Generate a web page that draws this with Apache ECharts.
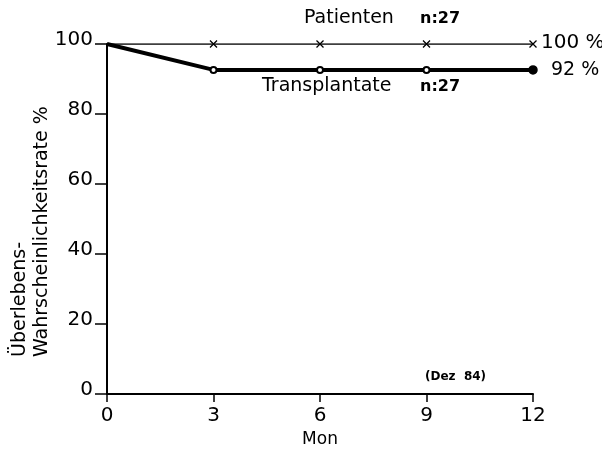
<!DOCTYPE html>
<html>
<head>
<meta charset="utf-8">
<script src="https://cdn.jsdelivr.net/npm/echarts@6/dist/echarts.min.js"></script>
<style>html,body{margin:0;padding:0;background:#fff;}#c{width:602px;height:453px;}</style>
</head>
<body>
<div id="c"></div>
<script>
const months = [0, 3, 6, 9, 12];
const patienten = [100, 100, 100, 100, 100];
const transplantate = [100, 92.6, 92.6, 92.6, 92.6];
const yTicks = [0, 20, 40, 60, 80, 100];
const xTicks = [0, 3, 6, 9, 12];

const FONT = '"DejaVu Sans", Verdana, sans-serif';
const chart = echarts.init(document.getElementById('c'));

const patData = months.map((m, i) => i === 0
  ? { value: [m, patienten[i]], symbol: 'none' }
  : { value: [m, patienten[i]] });
const trData = months.map((m, i) => {
  if (i === 0) return { value: [m, transplantate[i]], symbol: 'none' };
  if (i === months.length - 1) return { value: [m, transplantate[i]], symbol: 'circle', symbolSize: 8 };
  return { value: [m, transplantate[i]] };
});

chart.setOption({
  animation: false,
  backgroundColor: '#fff',
  grid: { left: 107, right: 69, top: 44, bottom: 58 },
  xAxis: {
    type: 'value', min: 0, max: 12, interval: 3,
    name: 'Mon', nameLocation: 'middle', nameGap: 37,
    nameTextStyle: { fontFamily: FONT, fontSize: 17, color: '#000' },
    axisLine: { lineStyle: { color: '#000', width: 2 } },
    axisTick: { show: true, length: 8, lineStyle: { color: '#000', width: 1.5 } },
    axisLabel: { fontFamily: FONT, fontSize: 20, color: '#000', margin: 12,
      customValues: xTicks },
    splitLine: { show: false }
  },
  yAxis: {
    type: 'value', min: 0, max: 100, interval: 20,
    axisLine: { show: true, lineStyle: { color: '#000', width: 2 } },
    axisTick: { show: true, length: 12, lineStyle: { color: '#000', width: 1.5 } },
    axisLabel: { fontFamily: FONT, fontSize: 20, color: '#000', margin: 14,
      verticalAlign: 'bottom', lineHeight: 8 },
    splitLine: { show: false }
  },
  series: [
    {
      name: 'Patienten', type: 'line', data: patData,
      symbol: 'path://M0,0L10,10M10,0L0,10', symbolSize: 7,
      itemStyle: { color: 'none', borderColor: '#000', borderWidth: 1.3 },
      lineStyle: { color: '#000', width: 1.5 },
      endLabel: { show: true, formatter: '100 %', fontFamily: FONT, fontSize: 20, color: '#000', distance: 8, offset: [0, -1] },
      z: 3
    },
    {
      name: 'Transplantate', type: 'line', data: trData,
      symbol: 'emptyCircle', symbolSize: 6,
      itemStyle: { color: '#000', borderColor: '#000', borderWidth: 1.5 },
      lineStyle: { color: '#000', width: 4 },
      endLabel: { show: true, formatter: '92 %', fontFamily: FONT, fontSize: 19, color: '#000', distance: 18 },
      z: 2
    }
  ],
  graphic: [
    { type: 'text', left: 304, top: 9, style: { text: 'Patienten', font: '19px ' + FONT, fill: '#000' } },
    { type: 'text', left: 420, top: 11, style: { text: 'n:27', font: 'bold 16px ' + FONT, fill: '#000' } },
    { type: 'text', left: 262, top: 77, style: { text: 'Transplantate', font: '19px ' + FONT, fill: '#000' } },
    { type: 'text', left: 420, top: 79, style: { text: 'n:27', font: 'bold 16px ' + FONT, fill: '#000' } },
    { type: 'text', left: 425, top: 371, style: { text: '(Dez  84)', font: 'bold 12px ' + FONT, fill: '#000' } },
    { type: 'text', x: 20, y: 357, rotation: Math.PI / 2,
      style: { text: 'Überlebens-', font: '19px ' + FONT, fill: '#000', textAlign: 'left', textVerticalAlign: 'middle' } },
    { type: 'text', x: 42, y: 357, rotation: Math.PI / 2,
      style: { text: 'Wahrscheinlichkeitsrate %', font: '19px ' + FONT, fill: '#000', textAlign: 'left', textVerticalAlign: 'middle' } }
  ]
});
</script>
</body>
</html>
